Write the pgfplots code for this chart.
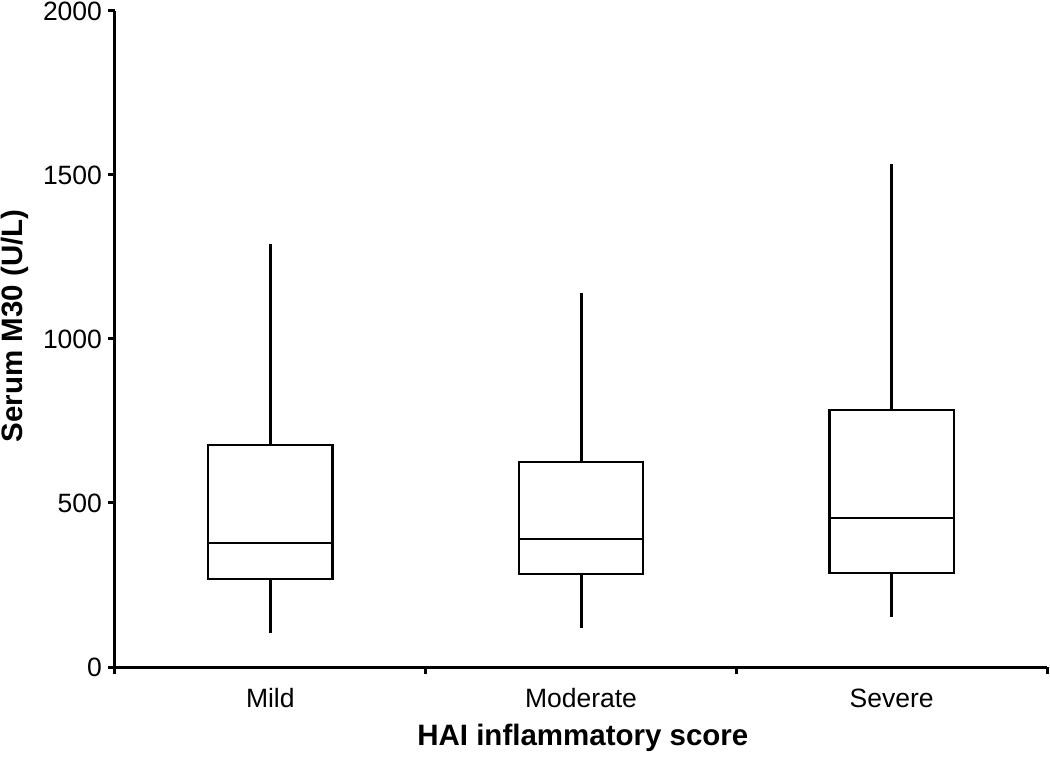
\documentclass[border=0pt]{standalone}
\usepackage{pgfplots}
\pgfplotsset{compat=1.18}
\usepackage{fontspec}
\setmainfont{Liberation Sans}
\begin{document}
\begin{tikzpicture}
\begin{axis}[
  scale only axis,
  width=466bp, height=328bp,
  xmin=0, xmax=3, ymin=0, ymax=2000,
  axis lines=left,
  axis line style={-, line width=1.5bp},
  xtick={0,1,2,3},
  x tick label as interval,
  xticklabels={Mild,Moderate,Severe},
  ytick={0,500,1000,1500,2000},
  tick align=outside,
  major tick length=3.5bp,
  tick style={line width=1.5bp, black},
  /pgf/number format/assume math mode=true,
  /pgf/number format/1000 sep={},
  ticklabel style={font=\fontsize{13.3}{16}\selectfont},
  xticklabel style={anchor=base, yshift=-16.5bp},
  yticklabel style={xshift=0.5bp},
  xlabel={\textbf{HAI inflammatory score}},
  ylabel={\textbf{Serum M30 (U/L)}},
  label style={font=\fontsize{14.8}{17}\selectfont},
  xlabel style={at={(axis description cs:0.502,-0.1204)}, anchor=base},
  ylabel style={at={(axis description cs:-0.107,0.52)}, anchor=center},
  clip=false,
  boxs/.style={black, solid, mark=none, line width=1.3bp, line join=miter},
  whisk/.style={black, solid, mark=none, line width=1.5bp},
]
% Mild: lw=104 q1=268 med=378 q3=677 uw=1290
\addplot[boxs] coordinates {(0.3,268) (0.7,268) (0.7,677) (0.3,677)} -- cycle;
\addplot[boxs] coordinates {(0.3,378) (0.7,378)};
\addplot[whisk] coordinates {(0.5,677) (0.5,1290)};
\addplot[whisk] coordinates {(0.5,268) (0.5,104)};
% Moderate: lw=119 q1=284 med=390 q3=625 uw=1140
\addplot[boxs] coordinates {(1.3,284) (1.7,284) (1.7,625) (1.3,625)} -- cycle;
\addplot[boxs] coordinates {(1.3,390) (1.7,390)};
\addplot[whisk] coordinates {(1.5,625) (1.5,1140)};
\addplot[whisk] coordinates {(1.5,284) (1.5,119)};
% Severe: lw=152 q1=287 med=454 q3=784 uw=1534
\addplot[boxs] coordinates {(2.3,287) (2.7,287) (2.7,784) (2.3,784)} -- cycle;
\addplot[boxs] coordinates {(2.3,454) (2.7,454)};
\addplot[whisk] coordinates {(2.5,784) (2.5,1534)};
\addplot[whisk] coordinates {(2.5,287) (2.5,152)};
\end{axis}
\pgfresetboundingbox
\path (current axis.south west) ++(-57.5bp,-46bp) rectangle ([shift={(1.5bp,5.5bp)}]current axis.north east);
\end{tikzpicture}
\end{document}
